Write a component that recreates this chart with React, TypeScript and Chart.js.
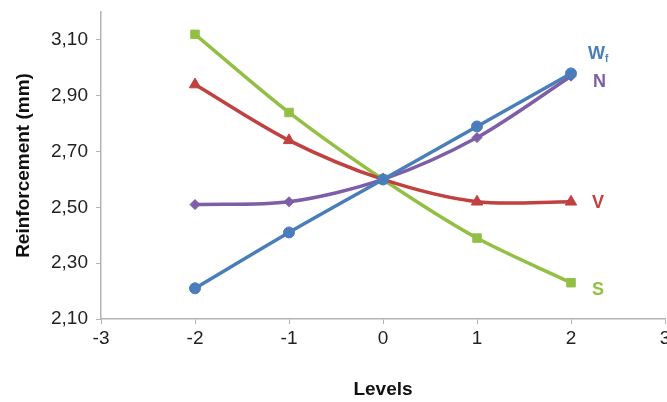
import React, { useEffect, useRef } from "react";
import { Chart, registerables } from "chart.js";

Chart.register(...registerables);

const levels = [-2, -1, 0, 1, 2];
const wfValues = [2.21, 2.41, 2.6, 2.79, 2.98];
const nValues = [2.51, 2.52, 2.6, 2.75, 2.97];
const vValues = [2.94, 2.74, 2.6, 2.52, 2.52];
const sValues = [3.12, 2.84, 2.6, 2.39, 2.23];
const yTickValues = [2.1, 2.3, 2.5, 2.7, 2.9, 3.1];
const xTickValues = [-3, -2, -1, 0, 1, 2, 3];

const BLUE = "#4a7ebb";
const PURPLE = "#7e5ea6";
const RED = "#c0413f";
const GREEN = "#93bf45";

const FONT = "'Liberation Sans', Arial, sans-serif";

const seriesLabelPlugin = {
  id: "seriesLabels",
  afterDatasetsDraw(chart: any) {
    const ctx = chart.ctx;
    const offsets = [-19, 6, 1, 7];
    const dx = [17, 22, 21, 21];
    chart.data.datasets.forEach((ds: any, i: number) => {
      const meta = chart.getDatasetMeta(i);
      const last = meta.data[meta.data.length - 1];
      if (!last) return;
      const x = last.x + dx[i];
      const y = last.y + offsets[i];
      ctx.save();
      ctx.fillStyle = ds.borderColor;
      ctx.font = `bold 18px ${FONT}`;
      ctx.textBaseline = "middle";
      ctx.textAlign = "left";
      const name: string = ds.label;
      if (name === "Wf") {
        ctx.fillText("W", x, y);
        const w = ctx.measureText("W").width;
        ctx.font = `bold 10px ${FONT}`;
        ctx.fillText("f", x + w, y + 5);
      } else {
        ctx.fillText(name, x, y);
      }
      ctx.restore();
    });
  },
};

export default function App() {
  const canvasRef = useRef<HTMLCanvasElement | null>(null);

  useEffect(() => {
    if (!canvasRef.current) return;
    const mk = (label: string, data: number[], color: string, style: any, radius: number) => ({
      label,
      data: levels.map((x, i) => ({ x, y: data[i] })),
      borderColor: color,
      backgroundColor: color,
      borderWidth: 3.5,
      pointStyle: style,
      pointRadius: radius,
      pointHoverRadius: radius,
      pointBorderWidth: 1,
      tension: 0.3,
      showLine: true,
    });
    const chart = new Chart(canvasRef.current, {
      type: "scatter",
      data: {
        datasets: [
          mk("Wf", wfValues, BLUE, "circle", 5.5),
          mk("N", nValues, PURPLE, "rectRot", 5),
          mk("V", vValues, RED, "triangle", 6.5),
          mk("S", sValues, GREEN, "rect", 6),
        ],
      },
      plugins: [seriesLabelPlugin],
      options: {
        responsive: false,
        animation: false,
        layout: { padding: { left: 12, top: 12, right: 35, bottom: 0 } },
        plugins: {
          legend: { display: false },
          tooltip: { enabled: false },
        },
        scales: {
          x: {
            type: "linear",
            min: -3,
            max: 3,
            afterBuildTicks: (scale: any) => {
              scale.ticks = xTickValues.map((v) => ({ value: v }));
            },
            afterFit: (scale: any) => {
              scale.height = 83;
              scale.paddingLeft = 0;
              scale.paddingRight = 0;
            },
            ticks: {
              color: "#222",
              font: { family: FONT, size: 19 },
              padding: 3,
              callback: (v: any) => String(v),
            },
            grid: {
              drawOnChartArea: false,
              drawTicks: true,
              tickLength: 5,
              color: "#b3b3b3",
            },
            border: { color: "#b3b3b3", width: 1.5 },
            title: {
              display: true,
              text: "Levels",
              color: "#111",
              font: { family: FONT, size: 19, weight: "bold" },
              padding: { top: 15, bottom: 1 },
            },
          },
          y: {
            type: "linear",
            min: 2.1,
            max: 3.2,
            afterBuildTicks: (scale: any) => {
              scale.ticks = yTickValues.map((v) => ({ value: v }));
            },
            afterFit: (scale: any) => {
              scale.width = 89;
              scale.paddingTop = 0;
              scale.paddingBottom = 0;
            },
            ticks: {
              color: "#222",
              font: { family: FONT, size: 19 },
              padding: 8,
              callback: (v: any) => Number(v).toFixed(2).replace(".", ","),
            },
            grid: {
              drawOnChartArea: false,
              drawTicks: true,
              tickLength: 5,
              color: "#b3b3b3",
            },
            border: { color: "#b3b3b3", width: 1.5 },
            title: {
              display: true,
              text: "Reinforcement (mm)",
              color: "#111",
              font: { family: FONT, size: 19, weight: "bold" },
              padding: { top: 0, bottom: 0 },
            },
          },
        },
      },
    } as any);
    return () => chart.destroy();
  }, []);

  return (
    <div
      style={{
        position: "fixed",
        left: 0,
        top: 0,
        width: 667,
        height: 402,
        overflow: "hidden",
        background: "#fff",
      }}
    >
      <canvas ref={canvasRef} width={700} height={402} style={{ display: "block" }} />
    </div>
  );
}
